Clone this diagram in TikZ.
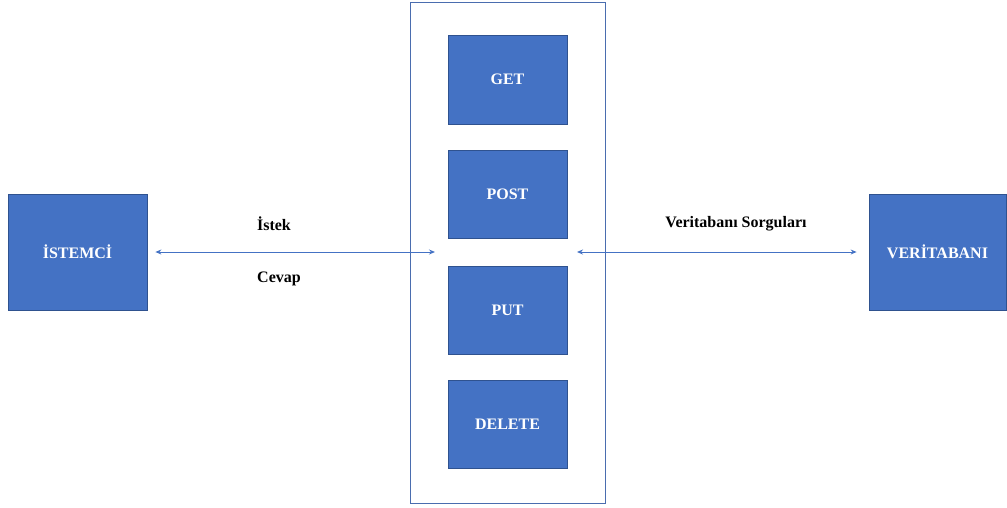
\documentclass[tikz,border=0pt]{standalone}
\usepackage{fontspec}
\setmainfont{Liberation Serif}
\usetikzlibrary{arrows.meta}
\definecolor{boxfill}{HTML}{4472C4}
\definecolor{boxline}{HTML}{2F528F}
\definecolor{frameline}{HTML}{4A6DAF}
\tikzset{
  blk/.style={draw=boxline, line width=0.8pt, fill=boxfill, text=white, font=\fontsize{16}{18}\selectfont\bfseries, inner sep=0pt},
  lbl/.style={font=\fontsize{16}{18}\selectfont\bfseries, text=black, inner sep=0pt},
  conn/.style={draw=boxfill, line width=1pt, {Stealth[length=6pt,width=5pt]}-{Stealth[length=6pt,width=5pt]}}
}
\begin{document}
\begin{tikzpicture}[x=1pt,y=-1pt]
\useasboundingbox (0,0) rectangle (1007,507);
\draw[frameline, line width=1pt] (410,2) rectangle (605,503);
\node[blk, minimum width=119pt, minimum height=89pt] (get) at (507.5,79.5) {GET};
\node[blk, minimum width=119pt, minimum height=88pt] (post) at (507.5,194) {POST};
\node[blk, minimum width=119pt, minimum height=88pt] (put) at (507.5,310) {PUT};
\node[blk, minimum width=119pt, minimum height=88pt] (delete) at (507.5,424) {DELETE};
\node[blk, minimum width=139pt, minimum height=116pt] (client) at (77.5,252) {İSTEMCİ};
\node[blk, minimum width=137pt, minimum height=116pt] (db) at (937.5,252) {VERİTABANI};
\coordinate (lin) at (435,252);
\coordinate (rin) at (577,252);
\draw[conn] ([xshift=8pt]client.east) -- (lin);
\draw[conn] (rin) -- ([xshift=-12pt]db.west);
\node[lbl] (istek) at (274,224) {İstek};
\node[lbl] (cevap) at (279,279) {Cevap};
\node[lbl] (sorgu) at (736,224) {Veritabanı Sorguları};
\end{tikzpicture}
\end{document}
